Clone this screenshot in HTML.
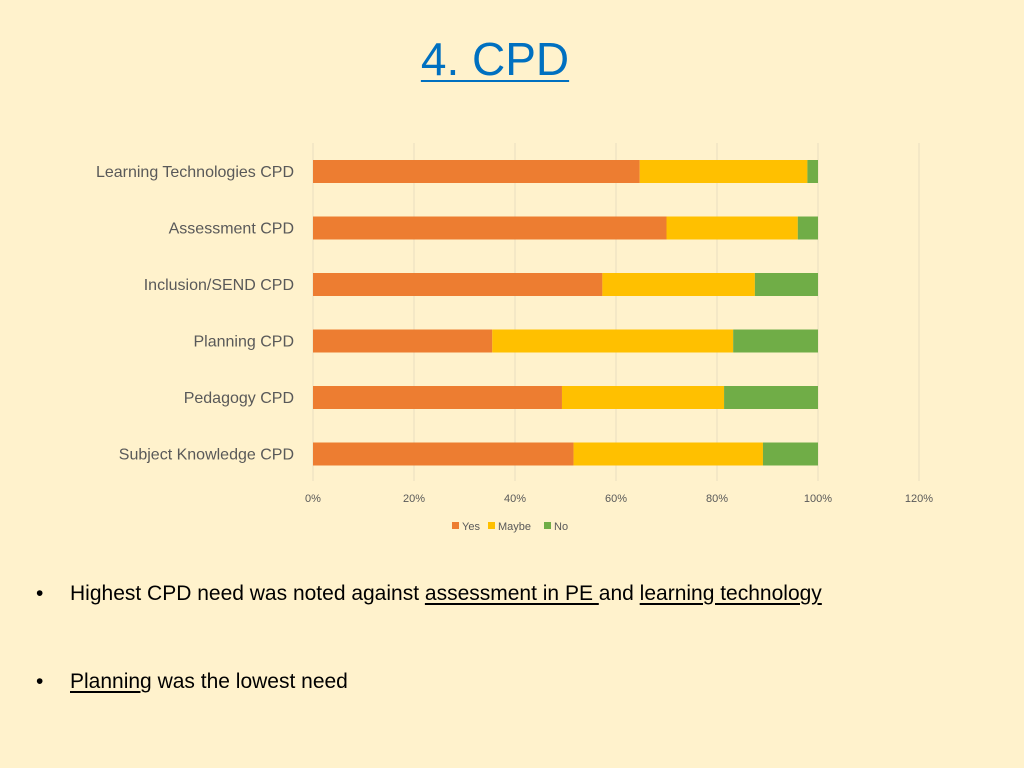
<!DOCTYPE html>
<html><head><meta charset="utf-8"><style>
body{margin:0;width:1024px;height:768px;background:#FFF2CC;font-family:"Liberation Sans",sans-serif;overflow:hidden;position:relative}
.title{position:absolute;left:0;width:990px;top:32px;text-align:center;font-size:46px;color:#0070C0;text-decoration:underline;text-decoration-thickness:2px;text-underline-offset:5px}
.bullet{position:absolute;left:36px;font-size:21px;color:#000}
.bullet span.d{display:inline-block;width:34px}
u{text-underline-offset:3px}
</style></head><body>
<div class="title">4. CPD</div>
<svg id="chart" width="1024" height="560" style="position:absolute;left:0;top:0"></svg>
<div class="bullet" style="top:582px"><span class="d">•</span>Highest CPD need was noted against <u>assessment in PE </u>and <u>learning technology</u></div>
<div class="bullet" style="top:670px"><span class="d">•</span><u>Planning</u> was the lowest need</div>
<script>
const categories=["Learning Technologies CPD","Assessment CPD","Inclusion/SEND CPD","Planning CPD","Pedagogy CPD","Subject Knowledge CPD"];
const yesVals=[64.7,70.0,57.3,35.5,49.3,51.6];
const maybeVals=[33.2,26.0,30.2,47.7,32.1,37.5];
const noVals=[2.1,4.0,12.5,16.8,18.6,10.9];
const ticks=[0,20,40,60,80,100,120];
const tickLabels=["0%","20%","40%","60%","80%","100%","120%"];
const seriesNames=["Yes","Maybe","No"];
const colors=["#ED7D31","#FFC000","#70AD47"];
const NS="http://www.w3.org/2000/svg";
const svg=document.getElementById("chart");
const x=v=>313+v*5.05;
const y=i=>171.5+i*56.5;
function mk(t,a){const e=document.createElementNS(NS,t);for(const k in a)e.setAttribute(k,a[k]);svg.appendChild(e);return e;}
ticks.forEach((t,i)=>{
 const g=mk("line",{x1:x(t),x2:x(t),y1:143,y2:481,stroke:"#E8DDBF","stroke-width":1});
 
 
 const l=mk("text",{x:x(t),y:502,"text-anchor":"middle","font-size":11,fill:"#595959"});
 l.textContent=tickLabels[i];
 
 
});
const series=[yesVals,maybeVals,noVals];
categories.forEach((c,i)=>{
 const l=mk("text",{x:294,y:y(i)+5.5,"text-anchor":"end","font-size":16,fill:"#595959"});
 l.textContent=c;
 
 
 let acc=0;
 series.forEach((s,j)=>{
  const r=mk("rect",{x:x(acc),y:y(i)-11.5,width:x(acc+s[i])-x(acc),height:23,fill:colors[j]});
  
  
  acc+=s[i];
 });
});
const lx=[452,488,544];
seriesNames.forEach((n,j)=>{
 const r=mk("rect",{x:lx[j],y:522,width:7,height:7,fill:colors[j]});
 
 
 const t=mk("text",{x:lx[j]+10,y:530,"font-size":11,fill:"#595959"});
 t.textContent=n;
 
 
});
</script>
</body></html>
